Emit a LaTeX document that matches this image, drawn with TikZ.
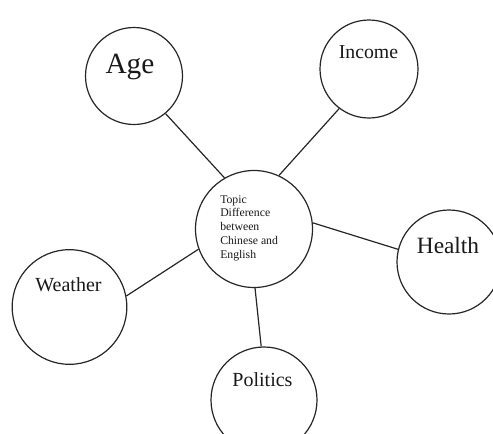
\documentclass[tikz,border=0pt]{standalone}
\usepackage{fontspec}
\setmainfont{Liberation Serif}
\usepackage{tikz}

\begin{document}
\begin{tikzpicture}[
  x=0.75pt,y=-0.75pt,
  bubble/.style={circle,draw=black!85,line width=0.9pt,inner sep=0pt},
  word/.style={anchor=base,inner sep=0pt,text=black!90},
  link/.style={draw=black!85,line width=0.9pt}
]
  \useasboundingbox[fill=white] (0,0) rectangle (493,433);

  % hub and the five topics around it
  \node[bubble,minimum size=87.75pt] (hub) at (254,229) {};
  \node[bubble,minimum size=72.75pt] (age) at (134,76) {};
  \node[bubble,minimum size=73.5pt] (income) at (369,69) {};
  \node[bubble,minimum size=78pt] (health) at (449,262) {};
  \node[bubble,minimum size=86pt] (weather) at (69.5,307) {};
  \node[bubble,minimum size=79.5pt] (politics) at (264,400) {};

  \node[word,font=\fontsize{22}{26}\selectfont] (agetxt) at (130,73) {Age};
  \node[word,font=\fontsize{14.8}{18}\selectfont] (incometxt) at (368.5,58) {Income};
  \node[word,font=\fontsize{17.5}{21}\selectfont] (healthtxt) at (448,253) {Health};
  \node[word,font=\fontsize{15}{19}\selectfont] (weathertxt) at (68.5,291) {Weather};
  \node[word,font=\fontsize{15}{19}\selectfont] (politicstxt) at (262.5,386) {Politics};
  \node[anchor=north west,inner sep=0pt,align=left,text=black!90,
        font=\fontsize{8.8}{10.4}\selectfont] (hubtxt) at (220,195)
    {Topic\\Difference\\between\\Chinese and\\English};

  % spokes
  \draw[link] (age.-50) -- (hub.120);
  \draw[link] (income.-127) -- (hub.65);
  \draw[link] (hub.6) -- (health.166);
  \draw[link] (hub.200) -- (weather.11);
  \draw[link] (hub.-89) -- (politics.93);
\end{tikzpicture}
\end{document}
